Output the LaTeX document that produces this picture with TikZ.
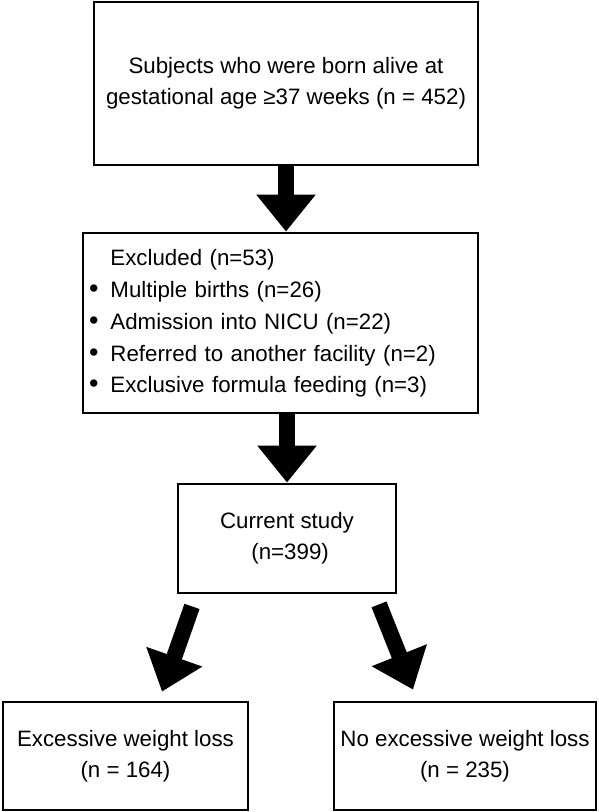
\documentclass[tikz,border=0pt]{standalone}
\usepackage{fontspec}
\setmainfont{Liberation Sans}
\usetikzlibrary{arrows.meta,calc}

\newcommand{\blt}{{\fontsize{27}{31}\selectfont •}}

\begin{document}
\begin{tikzpicture}[x=1pt,y=1pt,
    every node/.style={font=\fontsize{22.3}{31}\selectfont,inner sep=0,outer sep=1.4pt},
    box/.style={draw,line width=2.8pt,align=center},
    fat/.style={line width=16pt,-{Triangle[width=57pt,length=37pt]}}]
    \useasboundingbox (0,0) rectangle (598,812);
    \node[box,minimum width=384pt,minimum height=163pt](b1) at (286,728.5)
        {Subjects who were born alive at\\gestational age ≥37 weeks (n = 452)};
    \node[box,minimum width=395pt,minimum height=180pt,inner xsep=6pt,text width=383pt,
        align=left,font=\fontsize{22.3}{31.75}\selectfont](b2) at (280.5,489) {%
        \begin{tabular}{@{}l@{\hspace{12pt}}l@{}}
                  & Excluded (n=53)\\
            \blt  & Multiple births (n=26)\\
            \blt  & Admission into NICU (n=22)\\
            \blt  & Referred to another facility (n=2)\\
            \blt  & Exclusive formula feeding (n=3)
        \end{tabular}\par\vspace{12pt}};
    \node[box,minimum width=218pt,minimum height=109pt](b3) at (287,273.5)
        {Current study\\~(n=399)};
    \node[box,minimum width=245pt,minimum height=108pt](b4) at (125.5,56)
        {Excessive weight loss\\(n = 164)};
    \node[box,minimum width=262pt,minimum height=108pt](b5) at (465,56)
        {No excessive weight loss\\(n = 235)};
    \draw[fat] (b1.south) -- (b1.south |- b2.north);
    \draw[fat] (b3.north |- b2.south) -- (b3.north);
    \draw[fat] ($(b3.south)+(-95,-12)$) -- ($(b4.north)+(36.5,9)$);
    \draw[fat] ($(b3.south)+(92,-10)$) -- ($(b5.north)+(-52,11)$);
\end{tikzpicture}
\end{document}
